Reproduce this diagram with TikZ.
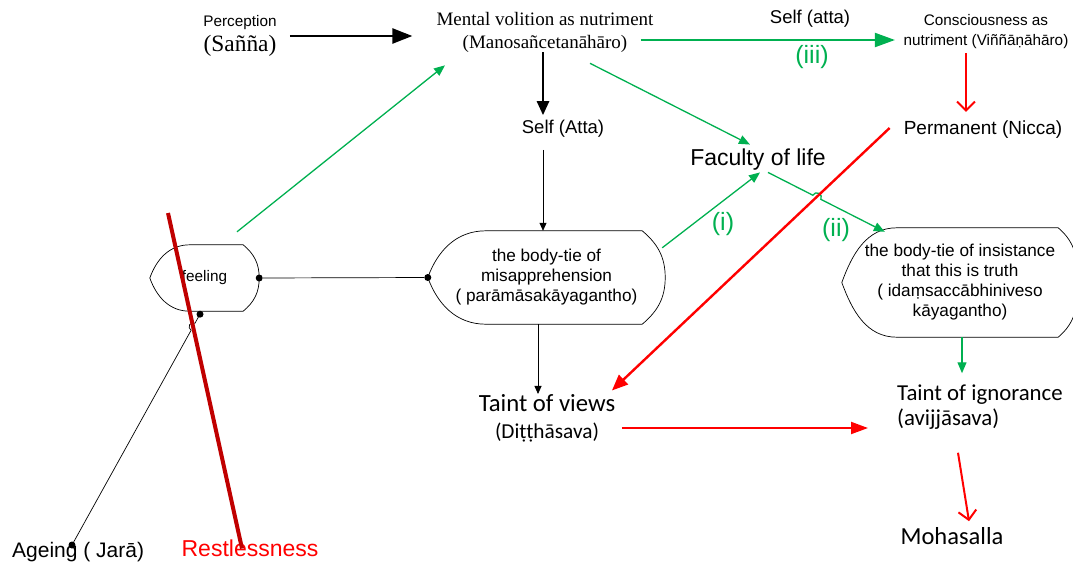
\documentclass[tikz,border=0pt]{standalone}
\usepackage{fontspec}
\setmainfont{Liberation Sans}
\newfontfamily\tnrfont{Liberation Serif}
\newfontfamily\calfont{Carlito}
\usepackage{tikz}
\usetikzlibrary{arrows.meta,calc}
\definecolor{linkgreen}{HTML}{00B050}
\definecolor{linkred}{HTML}{FF0000}
\definecolor{strikered}{HTML}{C00000}
\newcommand\fsz[2]{\fontsize{#1}{#2}\selectfont}
% outline of a display-like box drawn round a node
\newcommand\dispbox[3]{%
  \draw[black, line width=0.7pt] ([xshift=#2pt]#1.north west) -- ([xshift=-#3pt]#1.north east)
    to[out=-40,in=90] (#1.east) to[out=-90,in=40] ([xshift=-#3pt]#1.south east)
    -- ([xshift=#2pt]#1.south west) to[out=180,in=-70] (#1.west)
    to[out=70,in=180] ([xshift=#2pt]#1.north west);}

\begin{document}
\begin{tikzpicture}[x=1pt,y=1pt,
    txt/.style={inner sep=0pt, align=center},
    boxtxt/.style={inner sep=0pt, align=center, font=\fsz{17.2}{20}},
    thinarr/.style={black, line width=0.8pt, -{Triangle[length=8pt,width=7pt]}},
    greenarr/.style={linkgreen, line width=1.3pt, -{Triangle[length=11pt,width=9pt]}},
    redarr/.style={linkred, line width=2.4pt, -{Triangle[length=16pt,width=13pt]}},
    redopen/.style={linkred, line width=2pt, -{Straight Barb[length=9pt,width=18pt]}},
    joint/.style={circle, fill=black, inner sep=0pt, minimum size=7pt}]
    \useasboundingbox (0,0) rectangle (1073,-565);

    % top row
    \node[txt, font=\fsz{15.3}{25.5}] (percep) at (240,-36)
        {Perception\\{\tnrfont\fontsize{23.4}{25.5}\selectfont (Sañña)}};
    \node[txt, font=\tnrfont\fsz{19}{23}] (mental) at (545,-32)
        {Mental volition as nutriment\\(Manosañcetanāhāro)};
    \node[txt, font=\fsz{18.5}{22}] (selfA) at (563,-129) {Self (Atta)};
    \node[txt, font=\fsz{18.5}{22}] (selfa) at (810,-19) {Self (atta)};
    \node[txt, font=\fsz{25}{28}, text=linkgreen] (lbliii) at (812,-57) {(iii)};
    \node[txt, font=\fsz{15.3}{20}] (consc) at (986,-32)
        {Consciousness as\\nutriment (Viññāṇāhāro)};
    \node[txt, font=\fsz{19}{22}] (perm) at (983,-130) {Permanent (Nicca)};
    \node[txt, font=\fsz{23}{26}] (faculty) at (758,-160) {Faculty of life};

    % the three ties
    \node[txt, font=\fsz{15.3}{18}, minimum width=109pt, minimum height=66pt] (feel) at (204.5,-278) {feeling};
    \node[boxtxt, minimum width=237pt, minimum height=93pt] (misapp) at (546.5,-277.5)
        {the body-tie of\\misapprehension\\( parāmāsakāyagantho)};
    \node[boxtxt, minimum width=236pt, minimum height=109pt] (insist) at (960,-282.5)
        {the body-tie of insistance\\that this is truth\\( idaṃsaccābhiniveso\\kāyagantho)};
    \dispbox{feel}{40}{16}
    \dispbox{misapp}{58}{23}
    \begin{scope}
        \clip (0,0) rectangle (1073,-565);
        \dispbox{insist}{55}{20}
    \end{scope}
    \node[txt, font=\fsz{25}{28}, text=linkgreen] (lbli) at (723,-224) {(i)};
    \node[txt, font=\fsz{25}{28}, text=linkgreen] (lblii) at (836,-230) {(ii)};

    % bottom row
    \node[txt, font=\calfont\fsz{24.7}{27}] (taintv) at (547,-418)
        {Taint of views\\{\fontsize{21.3}{27}\selectfont(Diṭṭhāsava)}};
    \node[txt, align=left, anchor=west, font=\calfont\fsz{22.8}{25.5}] (taintig) at (897,-407)
        {Taint of ignorance\\(avijjāsava)};
    \node[txt, font=\calfont\fsz{24.5}{27}] (moha) at (952,-536) {Mohasalla};
    \node[txt, anchor=west, font=\fsz{21}{24}] (ageing) at (12,-552) {Ageing ( Jarā)};
    \node[txt, font=\fsz{23}{26}, text=linkred] (restless) at (250,-548.5) {Restlessness};

    % black links
    \draw[black, line width=2.6pt, -{Triangle[length=20pt,width=15pt]}]
        ([xshift=13pt]percep.east) -- ([xshift=-24pt]percep.east -| mental.west);
    \draw[black, line width=2.6pt, -{Triangle[length=14pt,width=12pt]}, shorten >=5pt]
        ([xshift=-2pt]mental.south) -- ([xshift=-20pt]selfA.north);
    \draw[thinarr, shorten <=12pt] ([xshift=-20pt]selfA.south) -- ([xshift=-3.5pt]misapp.north);
    \draw[thinarr] ([xshift=-8.5pt]misapp.south) -- ([xshift=-8.5pt]misapp.south |- taintv.north);
    \node[joint] (dotfeel) at (feel.east) {};
    \node[joint] (dotmis) at (misapp.west) {};
    \node[joint] (dotbot) at ([shift={(-4.5,-3)}]feel.south) {};
    \node[joint] (dotage) at ([shift={(60,7)}]ageing.west) {};
    \draw[black, line width=0.7pt] (dotfeel) -- (dotmis);
    \draw[black, line width=0.7pt] (dotbot.center) -- ($(dotbot.center)!0.039!(dotage.center)$)
        arc[start angle=61, end angle=241, radius=4pt] -- (dotage.center);

    % green links
    \draw[greenarr] ([shift={(32.5,13)}]feel.north) -- ([shift={(-100,-13)}]mental.south);
    \draw[greenarr] ([shift={(45,-11)}]mental.south) -- ([shift={(-8,4.5)}]faculty.north);
    \draw[linkgreen, line width=2pt, -{Triangle[length=20pt,width=14pt]}]
        ([shift={(-13,-8)}]mental.east) -- ([shift={(-8.5,-8)}]consc.west);
    \draw[greenarr] ([shift={(-3,-17)}]misapp.north east) -- ([shift={(2,-1.5)}]faculty.south);
    \coordinate (facout) at ([shift={(10,-1.5)}]faculty.south);
    \coordinate (insin) at ([shift={(43,-4)}]insist.north west);
    \draw[greenarr] (facout) -- ($(facout)!0.384!(insin)$)
        arc[start angle=152.85, end angle=-27.15, radius=4.5pt] -- (insin);
    \draw[greenarr, shorten >=11pt] ([xshift=2pt]insist.south) -- ([xshift=2pt]insist.south |- taintig.north);

    % red links
    \draw[redopen, shorten <=4pt, shorten >=9pt] ([xshift=-20pt]consc.south) -- ([xshift=-17pt]perm.north);
    \draw[redarr] ([shift={(-14,2)}]perm.west) -- ([shift={(-3.5,3.5)}]taintv.north east);
    \draw[redarr, line width=2pt, -{Triangle[length=17pt,width=12pt]}]
        ([shift={(6.5,-10)}]taintv.east) -- ([shift={(-29,-21)}]taintig.west);
    \draw[redopen] ([shift={(61,-23)}]taintig.south west) -- ([shift={(17,6)}]moha.north);

    % struck through
    \coordinate (striketop) at (168,-213);
    \draw[strikered, line width=4pt] (striketop) -- ([xshift=-8pt]restless.center);
\end{tikzpicture}
\end{document}
